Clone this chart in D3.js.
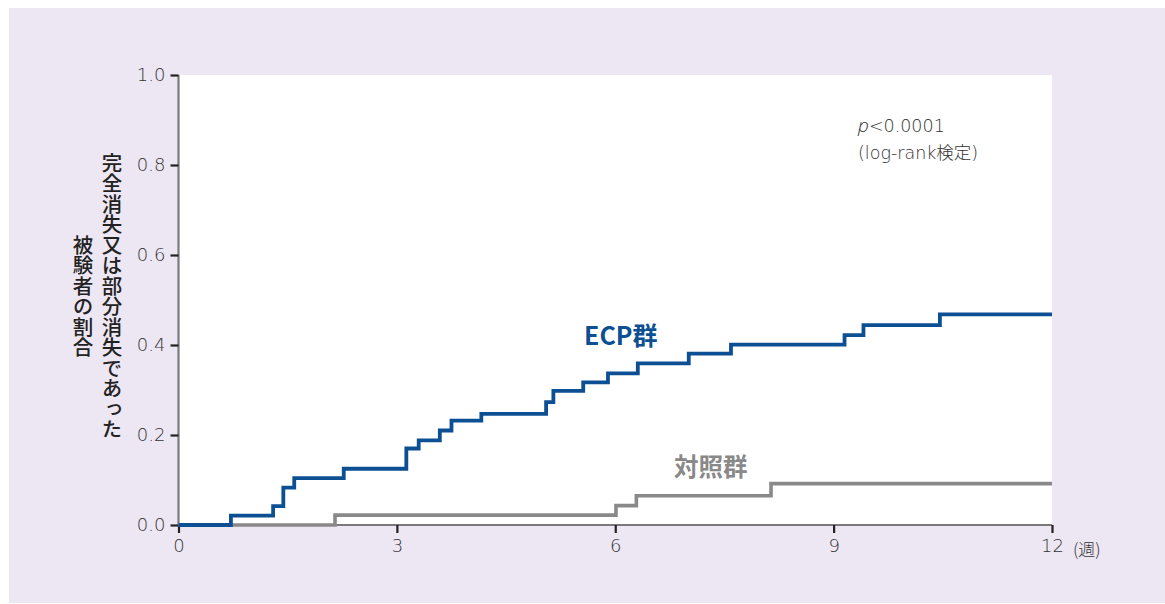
<!DOCTYPE html>
<html>
<head>
<meta charset="utf-8">
<script src="https://cdn.jsdelivr.net/npm/d3@7"></script>
<style>
  body { margin: 0; background: #fff; }
  svg { display: block; }
</style>
</head>
<body>
<div id="chart"></div>
<script>
// step data: week of each event, cumulative proportion after it
const ecpWeeks  = [0, 0.72, 1.30, 1.44, 1.59, 2.27, 3.13, 3.30, 3.59, 3.75, 4.16, 5.05, 5.15, 5.56, 5.90, 6.31, 7.01, 7.59, 9.15, 9.41, 10.46, 12];
const ecpValues = [0, 0.021, 0.042, 0.083, 0.104, 0.125, 0.170, 0.188, 0.210, 0.232, 0.247, 0.273, 0.298, 0.317, 0.337, 0.359, 0.381, 0.401, 0.422, 0.444, 0.468, 0.468];
const ctlWeeks  = [0, 2.15, 6.01, 6.29, 8.14, 12];
const ctlValues = [0, 0.022, 0.043, 0.065, 0.092, 0.092];
const xTicks = [0, 3, 6, 9, 12];
const yTicks = [0, 0.2, 0.4, 0.6, 0.8, 1.0];
const yLabelLines = ['完全消失又は部分消失であった', '被験者の割合'];

const W = 1165, H = 604;
const margin = {top: 75, right: 113, bottom: 79, left: 178.5};
const width = W - margin.left - margin.right;
const height = H - margin.top - margin.bottom;

const font = '"Noto Sans CJK JP", "Noto Sans", sans-serif';
const latin = '"DejaVu Sans", "Noto Sans CJK JP", sans-serif';

const svg = d3.select('#chart')
  .append('svg')
    .attr('width', W)
    .attr('height', H);

// lavender panel
svg.append('rect')
  .attr('x', 9).attr('y', 8)
  .attr('width', W - 9).attr('height', 595)
  .attr('fill', '#ede7f3');

const g = svg.append('g')
  .attr('transform', `translate(${margin.left},${margin.top})`);

// white plot area
g.append('rect')
  .attr('width', width).attr('height', height)
  .attr('fill', '#fff');

const x = d3.scaleLinear().domain([0, 12]).range([0, width]);
const y = d3.scaleLinear().domain([0, 1]).range([height, 0]);

// axes
const yAxis = g.append('g')
  .call(d3.axisLeft(y).tickValues(yTicks).tickFormat(d3.format('.1f')).tickSize(8).tickPadding(5));
const xAxis = g.append('g')
  .attr('transform', `translate(0,${height})`)
  .call(d3.axisBottom(x).tickValues(xTicks).tickSize(8).tickPadding(4));

[xAxis, yAxis].forEach(a => {
  a.select('.domain').attr('stroke', '#7a7a7a').attr('stroke-width', 2.2);
  a.selectAll('.tick line').attr('stroke', '#222').attr('stroke-width', 2.2);
  a.selectAll('.tick text')
    .attr('fill', '#333')
    .attr('font-family', latin)
    .attr('font-weight', 200)
    .attr('font-size', 18);
});
xAxis.select('.domain').attr('d', `M0,0H${width}`);
yAxis.select('.domain').attr('d', `M0,${height}V0`);
xAxis.selectAll('.tick text').attr('dy', '0.85em');

// unit after 12
g.append('text')
  .attr('x', x(12) + 21)
  .attr('y', height + 31)
  .attr('fill', '#333')
  .attr('font-family', font)
  .attr('font-weight', 300)
  .attr('font-size', 17)
  .text('(週)');

// step lines
const line = d3.line()
  .x(d => x(d[0]))
  .y(d => y(d[1]))
  .curve(d3.curveStepAfter);

g.append('path')
  .datum(d3.zip(ctlWeeks, ctlValues))
  .attr('fill', 'none')
  .attr('stroke', '#898989')
  .attr('stroke-width', 3.6)
  .attr('d', line);

g.append('path')
  .datum(d3.zip(ecpWeeks, ecpValues))
  .attr('fill', 'none')
  .attr('stroke', '#0c4f92')
  .attr('stroke-width', 3.8)
  .attr('d', line);

// series labels
g.append('text')
  .attr('x', 584 - margin.left)
  .attr('y', 345 - margin.top)
  .attr('fill', '#0c4f92')
  .attr('font-family', font)
  .attr('font-weight', 700)
  .attr('font-size', 25)
  .text('ECP群');

g.append('text')
  .attr('x', 674 - margin.left)
  .attr('y', 476 - margin.top)
  .attr('fill', '#898989')
  .attr('font-family', font)
  .attr('font-weight', 700)
  .attr('font-size', 24.5)
  .text('対照群');

// p value note
const note = g.append('text')
  .attr('x', 858 - margin.left)
  .attr('y', 132 - margin.top)
  .attr('fill', '#333')
  .attr('font-family', latin)
  .attr('font-weight', 200)
  .attr('font-size', 17.5);
note.append('tspan')
  .attr('font-family', '"Open Sans", sans-serif')
  .attr('font-weight', 300)
  .attr('font-size', 19)
  .attr('font-style', 'italic')
  .text('p');
note.append('tspan').text('<0.0001');
g.append('text')
  .attr('x', 858 - margin.left)
  .attr('y', 159 - margin.top)
  .attr('fill', '#333')
  .attr('font-family', latin)
  .attr('font-weight', 200)
  .attr('font-size', 17.5)
  .text('(log-rank検定)');

// vertical y label, two columns read right to left
svg.selectAll('.ylab')
  .data(yLabelLines)
  .join('text')
    .attr('class', 'ylab')
    .attr('x', (d, i) => 112 - i * 29)
    .attr('y', 296)
    .attr('text-anchor', 'middle')
    .style('writing-mode', 'vertical-rl')
    .attr('fill', '#222')
    .attr('font-family', font)
    .attr('font-weight', 500)
    .attr('font-size', 20.5)
    .text(d => d);
</script>
</body>
</html>
